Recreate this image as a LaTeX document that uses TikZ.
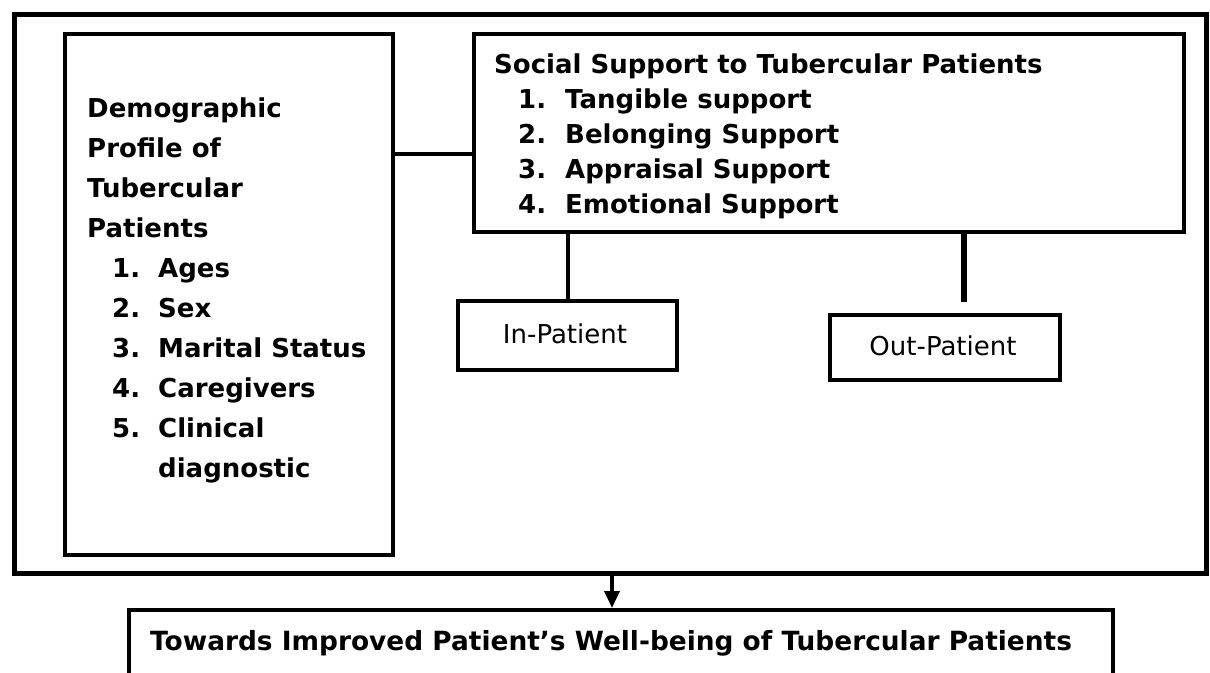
\documentclass[tikz,border=0pt]{standalone}
\usepackage{fontspec}
\setmainfont{DejaVu Sans}
\usetikzlibrary{arrows.meta}
\tikzset{
  boxA/.style={draw=black, line width=4pt, rectangle, inner sep=0pt, anchor=north west},
  outerbox/.style={draw=black, line width=5pt, rectangle, inner sep=0pt, anchor=north west},
  link/.style={draw=black, line width=4pt},
  boldtxt/.style={inner sep=0pt, anchor=base west, align=left, font=\bfseries\fontsize{26}{40}\selectfont},
  plaintxt/.style={inner sep=0pt, font=\fontsize{26}{30}\selectfont},
}
\newcommand{\itm}[2]{\hspace*{25pt}\makebox[46pt][l]{#1}#2}
\begin{document}
\begin{tikzpicture}[x=1pt,y=-1pt]
\useasboundingbox (0,0) rectangle (1210,672);
\clip (0,0) rectangle (1210,672);
\fill[white] (0,0) rectangle (1210,672);
% boxes
\node[outerbox, minimum width=1192pt, minimum height=559pt] (outer) at (12,12) {};
\node[boxA, minimum width=328pt, minimum height=521pt] (demo) at (63,32) {};
\node[boxA, minimum width=710pt, minimum height=198pt] (social) at (472,32) {};
\node[boxA, minimum width=219pt, minimum height=69pt] (inp) at (456,299) {};
\node[boxA, minimum width=230pt, minimum height=65pt] (outp) at (828,313) {};
\node[boxA, minimum width=984pt, minimum height=100pt] (bot) at (127,608) {};
% texts (anchored at the baseline of the last line)
\node[boldtxt] (demotxt) at (87,477) {Demographic\\Profile of\\Tubercular\\Patients\\
\itm{1.}{Ages}\\\itm{2.}{Sex}\\\itm{3.}{Marital Status}\\\itm{4.}{Caregivers}\\\itm{5.}{Clinical}\\\hspace*{71pt}diagnostic};
\node[boldtxt, font=\bfseries\fontsize{26}{35}\selectfont] (socialtxt) at (494,213) {Social Support to Tubercular Patients\\
\hspace*{24pt}\makebox[47pt][l]{1.}Tangible support\\
\hspace*{24pt}\makebox[47pt][l]{2.}Belonging Support\\
\hspace*{24pt}\makebox[47pt][l]{3.}Appraisal Support\\
\hspace*{24pt}\makebox[47pt][l]{4.}Emotional Support};
\node[plaintxt] (inptxt) at (565,334) {In-Patient};
\node[plaintxt] (outptxt) at (943,346) {Out-Patient};
\node[boldtxt, font=\bfseries\fontsize{26.4}{40}\selectfont] (bottxt) at (150,650) {Towards Improved Patient’s Well-being of Tubercular Patients};
% connectors
\coordinate (lk) at (0,154);
\coordinate (outtop) at (964,302);
\coordinate (arr) at (612,0);
\draw[link] (demo.north east |- lk) -- (social.north west |- lk);
\draw[link] (inp.north) -- (inp.north |- social.south);
\draw[link, line width=6pt] (outtop |- social.south) -- (outtop);
\draw[line width=3.5pt, -{Triangle[width=15pt,length=17pt]}] (outer.south -| arr) -- (bot.north -| arr);
\end{tikzpicture}
\end{document}
